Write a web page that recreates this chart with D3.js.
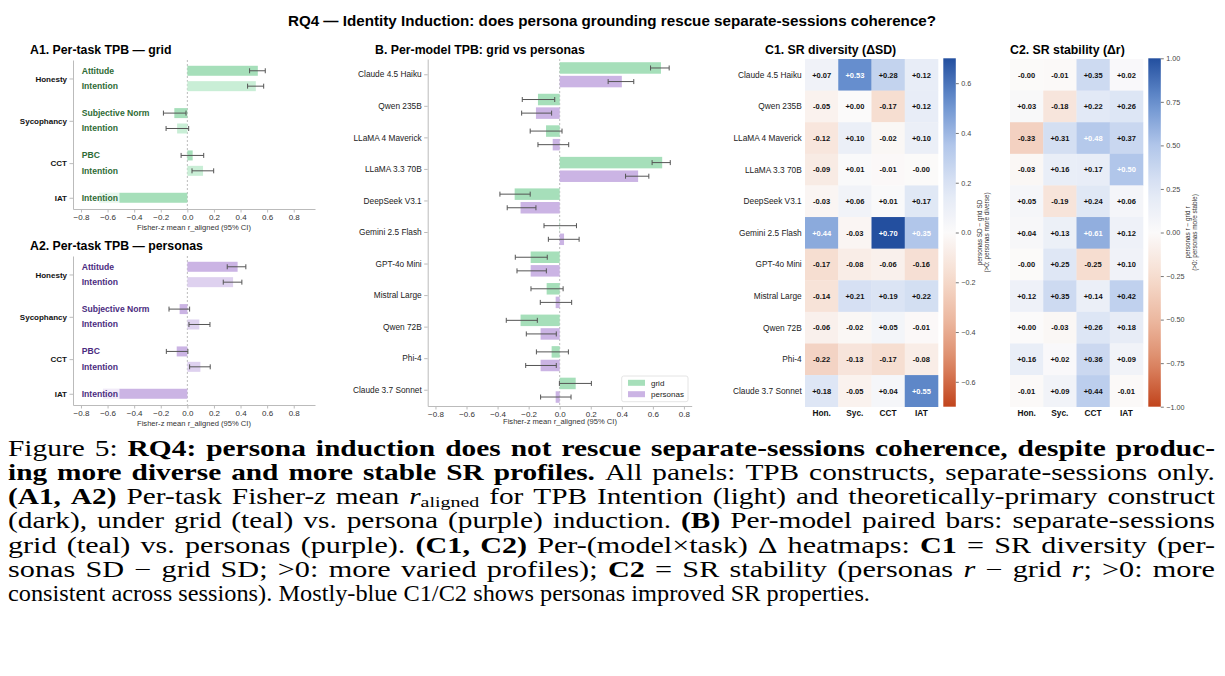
<!DOCTYPE html>
<html>
<head>
<meta charset="utf-8">
<script src="https://cdn.jsdelivr.net/npm/d3@7"></script>
<style>
  body { margin: 0; background: #fff; }
  svg { display: block; }
</style>
</head>
<body>
<div id="chart"></div>
<script>
// ---------- data ----------
const taskNames = ["Honesty", "Sycophancy", "CCT", "IAT"];
const constructs = ["Attitude", "Intention", "Subjective Norm", "Intention", "PBC", "Intention", "Intention"];
const constructTask = [0, 0, 1, 1, 2, 2, 3];
const constructIsPrimary = [true, false, true, false, true, false, true];

const gridMean = [0.53, 0.515, -0.098, -0.077, 0.04, 0.118, -0.665];
const gridLo   = [0.468, 0.453, -0.18, -0.16, -0.047, 0.035, null];
const gridHi   = [0.586, 0.574, -0.01, 0.01, 0.123, 0.198, null];

const personaMean = [0.378, 0.344, -0.058, 0.09, -0.08, 0.098, -0.635];
const personaLo   = [0.30, 0.27, -0.138, 0.012, -0.158, 0.017, null];
const personaHi   = [0.44, 0.41, 0.017, 0.17, 0.004, 0.172, null];

const models = ["Claude 4.5 Haiku", "Qwen 235B", "LLaMA 4 Maverick", "LLaMA 3.3 70B", "DeepSeek V3.1",
  "Gemini 2.5 Flash", "GPT-4o Mini", "Mistral Large", "Qwen 72B", "Phi-4", "Claude 3.7 Sonnet"];
const modelGridMean = [0.652, -0.14, -0.088, 0.66, -0.29, 0.002, -0.187, -0.084, -0.252, -0.052, 0.103];
const modelGridLo   = [0.585, -0.241, -0.19, 0.595, -0.385, -0.101, -0.286, -0.185, -0.344, -0.15, -0.002];
const modelGridHi   = [0.705, -0.032, 0.015, 0.712, -0.19, 0.108, -0.08, 0.022, -0.144, 0.056, 0.204];
const modelPersonaMean = [0.40, -0.153, -0.045, 0.505, -0.252, 0.028, -0.187, -0.026, -0.123, -0.123, -0.026];
const modelPersonaLo   = [0.312, -0.245, -0.14, 0.424, -0.338, -0.073, -0.275, -0.125, -0.215, -0.219, -0.123];
const modelPersonaHi   = [0.477, -0.052, 0.058, 0.574, -0.153, 0.125, -0.086, 0.077, -0.022, -0.022, 0.073];

const heatCols = ["Hon.", "Syc.", "CCT", "IAT"];
const deltaSD = [
  [0.07, 0.53, 0.28, 0.12],
  [-0.05, 0.002, -0.17, 0.12],
  [-0.12, 0.10, -0.02, 0.10],
  [-0.09, 0.01, -0.01, -0.003],
  [-0.03, 0.06, 0.01, 0.17],
  [0.44, -0.03, 0.70, 0.35],
  [-0.17, -0.08, -0.06, -0.16],
  [-0.14, 0.21, 0.19, 0.22],
  [-0.06, -0.02, 0.05, -0.01],
  [-0.22, -0.13, -0.17, -0.08],
  [0.18, -0.05, 0.04, 0.55]
];
const deltaR = [
  [-0.003, -0.01, 0.35, 0.02],
  [0.03, -0.18, 0.22, 0.26],
  [-0.33, 0.31, 0.48, 0.37],
  [-0.03, 0.16, 0.17, 0.50],
  [0.05, -0.19, 0.24, 0.06],
  [0.04, 0.13, 0.61, 0.12],
  [-0.003, 0.25, -0.25, 0.10],
  [0.12, 0.35, 0.14, 0.42],
  [0.002, -0.03, 0.26, 0.18],
  [0.16, 0.02, 0.36, 0.09],
  [-0.01, 0.09, 0.44, -0.01]
];

const xTicks = [-0.8, -0.6, -0.4, -0.2, 0, 0.2, 0.4, 0.6, 0.8];
const sdTicks = [-0.6, -0.4, -0.2, 0, 0.2, 0.4, 0.6];
const rTicks = [-1, -0.75, -0.5, -0.25, 0, 0.25, 0.5, 0.75, 1];

// ---------- setup ----------
const W = 1225, H = 676;
const sans = "'Liberation Sans', Arial, Helvetica, sans-serif";
const serif = "'Liberation Serif', 'Times New Roman', Times, serif";

const gridDark = "#a6dfba", gridLight = "#c9eed6";
const perDark = "#cbb4e4", perLight = "#ded1ef";
const gridText = "#2e6b35", perText = "#4b2c80";

const svg = d3.select("#chart").append("svg")
  .attr("width", W).attr("height", H)
  .attr("font-family", sans);

svg.append("text")
  .attr("x", 612).attr("y", 26)
  .attr("text-anchor", "middle")
  .attr("font-weight", "bold").attr("font-size", 15.2)
  .text("RQ4 — Identity Induction: does persona grounding rescue separate-sessions coherence?");

function styleAxis(g, size) {
  g.attr("font-family", sans).attr("font-size", size);
  g.select(".domain").attr("stroke", "#bbb");
  g.selectAll(".tick line").attr("stroke", "#bbb");
  g.selectAll(".tick text").attr("fill", "#333");
}

function errorBar(g, x, yc, lo, hi) {
  if (lo == null) return;
  g.append("line").attr("x1", x(lo)).attr("x2", x(hi)).attr("y1", yc).attr("y2", yc)
    .attr("stroke", "#555").attr("stroke-width", 1);
  [lo, hi].forEach(v => g.append("line")
    .attr("x1", x(v)).attr("x2", x(v)).attr("y1", yc - 2.5).attr("y2", yc + 2.5)
    .attr("stroke", "#555").attr("stroke-width", 1));
}

// ---------- A panels ----------
function drawTaskPanel(top, title, means, lo, hi, dark, light, labColor) {
  const g = svg.append("g");
  const x = d3.scaleLinear().domain([-0.86, 0.96]).range([73, 315]);
  const y = d3.scaleLinear().domain([-0.7, 8.98]).range([top, top + 149]);
  const pos = constructTask.map((t, i) => t * 2.75 + (i > 0 && constructTask[i - 1] === t ? 1 : 0));

  g.append("text").attr("x", 30).attr("y", top - 6)
    .attr("font-weight", "bold").attr("font-size", 12.3).text(title);

  g.append("line").attr("x1", x(0)).attr("x2", x(0)).attr("y1", top).attr("y2", top + 149)
    .attr("stroke", "#aaa").attr("stroke-width", 0.8).attr("stroke-dasharray", "2,2");

  means.forEach((v, i) => {
    g.append("rect")
      .attr("x", x(Math.min(0, v))).attr("width", Math.abs(x(v) - x(0)))
      .attr("y", y(pos[i]) - 5).attr("height", 10)
      .attr("fill", constructIsPrimary[i] ? dark : light);
    errorBar(g, x, y(pos[i]), lo[i], hi[i]);
  });

  constructs.forEach((c, i) => {
    const t = g.append("text").attr("x", 81.7).attr("y", y(pos[i]) + 3)
      .attr("font-weight", "bold").attr("font-size", 8.6).attr("fill", labColor).text(c);
    const bb = t.node().getBBox();
    g.insert("rect", () => t.node())
      .attr("x", bb.x - 1.5).attr("y", bb.y - 0.5).attr("width", bb.width + 3).attr("height", bb.height + 1)
      .attr("fill", "#fff").attr("opacity", 0.72);
  });

  const centers = taskNames.map((_, t) => d3.mean(pos.filter((p, i) => constructTask[i] === t)));
  const ax = g.append("g").attr("transform", `translate(73,0)`)
    .call(d3.axisLeft(y).tickValues(centers).tickFormat((d, i) => taskNames[i])
      .tickSize(3.5).tickSizeOuter(0).tickPadding(2.5));
  styleAxis(ax, 8);
  ax.selectAll(".tick text").attr("font-weight", "bold").attr("fill", "#111");

  const bx = g.append("g").attr("transform", `translate(0,${top + 149})`)
    .call(d3.axisBottom(x).tickValues(xTicks).tickFormat(d3.format(".1f"))
      .tickSize(3.5).tickSizeOuter(0).tickPadding(2));
  styleAxis(bx, 8);

  g.append("text").attr("x", 194).attr("y", top + 170)
    .attr("text-anchor", "middle").attr("font-size", 7.6).attr("fill", "#333")
    .text("Fisher-z mean r_aligned (95% CI)");
}

drawTaskPanel(60, "A1. Per-task TPB — grid", gridMean, gridLo, gridHi, gridDark, gridLight, gridText);
drawTaskPanel(256, "A2. Per-task TPB — personas", personaMean, personaLo, personaHi, perDark, perLight, perText);

// ---------- B panel ----------
(function () {
  const g = svg.append("g");
  const x = d3.scaleLinear().domain([-0.85, 0.85]).range([427.7, 691.7]);
  const y = d3.scaleBand().domain(models).range([59, 406]);
  const half = y.step() / 2;

  g.append("text").attr("x", 375).attr("y", 54)
    .attr("font-weight", "bold").attr("font-size", 12.3).text("B. Per-model TPB: grid vs personas");

  g.append("line").attr("x1", x(0)).attr("x2", x(0)).attr("y1", 59).attr("y2", 406)
    .attr("stroke", "#aaa").attr("stroke-width", 0.8).attr("stroke-dasharray", "2,2");

  models.forEach((m, i) => {
    const yc = y(m) + half;
    [[modelGridMean, modelGridLo, modelGridHi, gridDark, -6.8],
     [modelPersonaMean, modelPersonaLo, modelPersonaHi, perDark, 6.8]].forEach(([mean, lo, hi, col, off]) => {
      const v = mean[i];
      g.append("rect")
        .attr("x", x(Math.min(0, v))).attr("width", Math.abs(x(v) - x(0)))
        .attr("y", yc + off - 5.75).attr("height", 11.5).attr("fill", col);
      errorBar(g, x, yc + off, lo[i], hi[i]);
    });
  });

  const ax = g.append("g").attr("transform", "translate(427.7,0)")
    .call(d3.axisLeft(y).tickSize(3.5).tickSizeOuter(0).tickPadding(2.5));
  styleAxis(ax, 8.3);
  ax.selectAll(".tick text").attr("fill", "#222");

  const bx = g.append("g").attr("transform", "translate(0,406)")
    .call(d3.axisBottom(x).tickValues(xTicks).tickFormat(d3.format(".1f"))
      .tickSize(3.5).tickSizeOuter(0).tickPadding(2));
  styleAxis(bx, 8);

  g.append("text").attr("x", 560).attr("y", 424)
    .attr("text-anchor", "middle").attr("font-size", 7.6).attr("fill", "#333")
    .text("Fisher-z mean r_aligned (95% CI)");

  const lg = g.append("g");
  lg.append("rect").attr("x", 621.7).attr("y", 376).attr("width", 66.3).attr("height", 25.7)
    .attr("rx", 2).attr("fill", "#fff").attr("fill-opacity", 0.85).attr("stroke", "#ddd").attr("stroke-width", 0.8);
  [["grid", gridDark, 382.8], ["personas", perDark, 394.2]].forEach(([name, col, yy]) => {
    lg.append("rect").attr("x", 628).attr("y", yy - 3).attr("width", 17).attr("height", 6).attr("fill", col);
    lg.append("text").attr("x", 651).attr("y", yy + 3).attr("font-size", 8).attr("fill", "#222").text(name);
  });
})();

// ---------- C heatmaps ----------
const cmap = d3.scaleLinear()
  .domain([-1, -0.75, -0.5, -0.25, 0, 0.25, 0.5, 0.75, 1])
  .range(["#c1441c", "#dc8866", "#ecb8a0", "#f6ddd0", "#fbfafa", "#dfe7f5", "#b1c6ea", "#6890cf", "#234f9f"])
  .interpolate(d3.interpolateRgb);

function fmtCell(v) {
  return (v < 0 ? "-" : "+") + Math.abs(v).toFixed(2);
}

function drawHeat(o) {
  const g = svg.append("g");
  const x = d3.scaleBand().domain(heatCols).range([o.left, o.left + 133]);
  const y = d3.scaleBand().domain(models).range([59, 406.7]);

  g.append("text").attr("x", o.titleX).attr("y", 54)
    .attr("font-weight", "bold").attr("font-size", 12.3).text(o.title);

  o.values.forEach((row, i) => row.forEach((v, j) => {
    const cx = x(heatCols[j]), cy = y(models[i]);
    g.append("rect").attr("x", cx).attr("y", cy)
      .attr("width", x.bandwidth() + 0.3).attr("height", y.bandwidth() + 0.3)
      .attr("fill", cmap(v / o.vmax));
    g.append("text").attr("x", cx + x.bandwidth() / 2).attr("y", cy + y.bandwidth() / 2 + 2.7)
      .attr("text-anchor", "middle").attr("font-weight", "bold").attr("font-size", 7.5)
      .attr("fill", Math.abs(v) / o.vmax > 0.47 ? "#fff" : "#111")
      .text(fmtCell(v));
  }));

  heatCols.forEach(c => g.append("text")
    .attr("x", x(c) + x.bandwidth() / 2).attr("y", 415.5)
    .attr("text-anchor", "middle").attr("font-weight", "bold").attr("font-size", 8.3).attr("fill", "#111")
    .text(c));

  if (o.rowLabels) {
    models.forEach(m => g.append("text")
      .attr("x", 801.7).attr("y", y(m) + y.bandwidth() / 2 + 3)
      .attr("text-anchor", "end").attr("font-size", 8.3).attr("fill", "#222").text(m));
  }

  // colour bar
  const gid = "grad" + o.left;
  const grad = svg.append("defs").append("linearGradient").attr("id", gid)
    .attr("x1", 0).attr("y1", 0).attr("x2", 0).attr("y2", 1);
  d3.range(0, 1.0001, 0.05).forEach(t => grad.append("stop")
    .attr("offset", t).attr("stop-color", cmap(1 - 2 * t)));
  const cy = d3.scaleLinear().domain([-o.vmax, o.vmax]).range([406.7, 58.3]);
  g.append("rect").attr("x", o.cbLeft).attr("y", 58.3).attr("width", 12.5).attr("height", 348.4)
    .attr("fill", `url(#${gid})`);
  const cax = g.append("g").attr("transform", `translate(${o.cbLeft + 12.5},0)`)
    .call(d3.axisRight(cy).tickValues(o.ticks).tickFormat(d3.format(o.fmt))
      .tickSize(3).tickSizeOuter(0).tickPadding(2.5));
  styleAxis(cax, 7.2);
  cax.select(".domain").remove();
  cax.selectAll(".tick line").attr("stroke", "#777");
  cax.selectAll(".tick text").attr("fill", "#444");

  const lab = g.append("text")
    .attr("transform", `translate(${o.labX},232.5) rotate(-90)`)
    .attr("text-anchor", "middle").attr("font-size", 6.4).attr("fill", "#333");
  lab.append("tspan").attr("x", 0).attr("dy", 0).text(o.label[0]);
  lab.append("tspan").attr("x", 0).attr("dy", 7.4).text(o.label[1]);
}

drawHeat({
  left: 805, values: deltaSD, vmax: d3.max(deltaSD.flat(), d => Math.abs(d)),
  title: "C1. SR diversity (ΔSD)", titleX: 765, rowLabels: true,
  cbLeft: 943.3, ticks: sdTicks, fmt: ".1f", labX: 981.5,
  label: ["personas SD − grid SD", "(>0: personas more diverse)"]
});
drawHeat({
  left: 1010, values: deltaR, vmax: 1,
  title: "C2. SR stability (Δr)", titleX: 1010, rowLabels: false,
  cbLeft: 1148.3, ticks: rTicks, fmt: ".2f", labX: 1189.5,
  label: ["personas r − grid r", "(>0: personas more stable)"]
});

// ---------- caption ----------
const captionLines = [
  [["n", "Figure 5: "], ["b", "RQ4: persona induction does not rescue separate-sessions coherence, despite produc-"]],
  [["b", "ing more diverse and more stable SR profiles."], ["n", " All panels: TPB constructs, separate-sessions only."]],
  [["b", "(A1, A2)"], ["n", " Per-task Fisher-"], ["i", "z"], ["n", " mean "], ["i", "r"], ["s", "aligned"],
   ["n", " for TPB Intention (light) and theoretically-primary construct"]],
  [["n", "(dark), under grid (teal) vs. persona (purple) induction. "], ["b", "(B)"],
   ["n", " Per-model paired bars: separate-sessions"]],
  [["n", "grid (teal) vs. personas (purple). "], ["b", "(C1, C2)"], ["n", " Per-(model×task) Δ heatmaps: "],
   ["b", "C1"], ["n", " = SR diversity (per-"]],
  [["n", "sonas SD − grid SD; >0: more varied profiles); "], ["b", "C2"], ["n", " = SR stability (personas "],
   ["i", "r"], ["n", " − grid "], ["i", "r"], ["n", "; >0: more"]],
  [["n", "consistent across sessions). Mostly-blue C1/C2 shows personas improved SR properties."]]
];

const capSize = 22.5, capLeft = 8, capRight = 1215, lastRight = 870;
const subShift = 3.2;

function styleText(sel, st) {
  return sel
    .attr("font-size", st === "s" ? capSize * 0.68 : capSize)
    .attr("font-weight", st === "b" ? "bold" : "normal")
    .attr("font-style", st === "i" ? "italic" : "normal");
}
const meas = svg.append("text").attr("font-family", serif).attr("visibility", "hidden");
function widthOf(t, st) {
  styleText(meas, st).text(t);
  return meas.node().getComputedTextLength();
}
const spaceW = widthOf("a a", "n") - widthOf("aa", "n");

function tokenize(segs) {
  const words = [[]];
  segs.forEach(([st, txt]) => {
    txt.split(" ").forEach((p, i) => {
      if (i > 0) words.push([]);
      if (p) words[words.length - 1].push({ st, t: p });
    });
  });
  return words.filter(w => w.length);
}

captionLines.forEach((segs, li) => {
  const base = 455.5 + li * 24.3;
  const last = li === captionLines.length - 1;
  const words = tokenize(segs);
  words.forEach(w => w.forEach(p => { p.w = widthOf(p.t, p.st); }));
  // justified lines get slightly stretched spaces, then the line is fitted horizontally
  const gap = spaceW * (last ? 1 : 1.35);
  const natural = d3.sum(words, w => d3.sum(w, p => p.w)) + gap * (words.length - 1);
  const sx = ((last ? lastRight : capRight) - capLeft) / natural;
  const t = svg.append("text")
    .attr("font-family", serif).attr("fill", "#000")
    .attr("transform", `translate(${capLeft},${base}) scale(${sx},1)`);
  let cx = 0, shifted = false;
  words.forEach(w => {
    w.forEach((p, k) => {
      const ts = styleText(t.append("tspan"), p.st).text(p.t);
      if (k === 0) ts.attr("x", cx);
      if (p.st === "s" && !shifted) { ts.attr("dy", subShift); shifted = true; }
      else if (p.st !== "s" && shifted) { ts.attr("dy", -subShift); shifted = false; }
      cx += p.w;
    });
    cx += gap;
  });
});
meas.remove();
</script>
</body>
</html>
